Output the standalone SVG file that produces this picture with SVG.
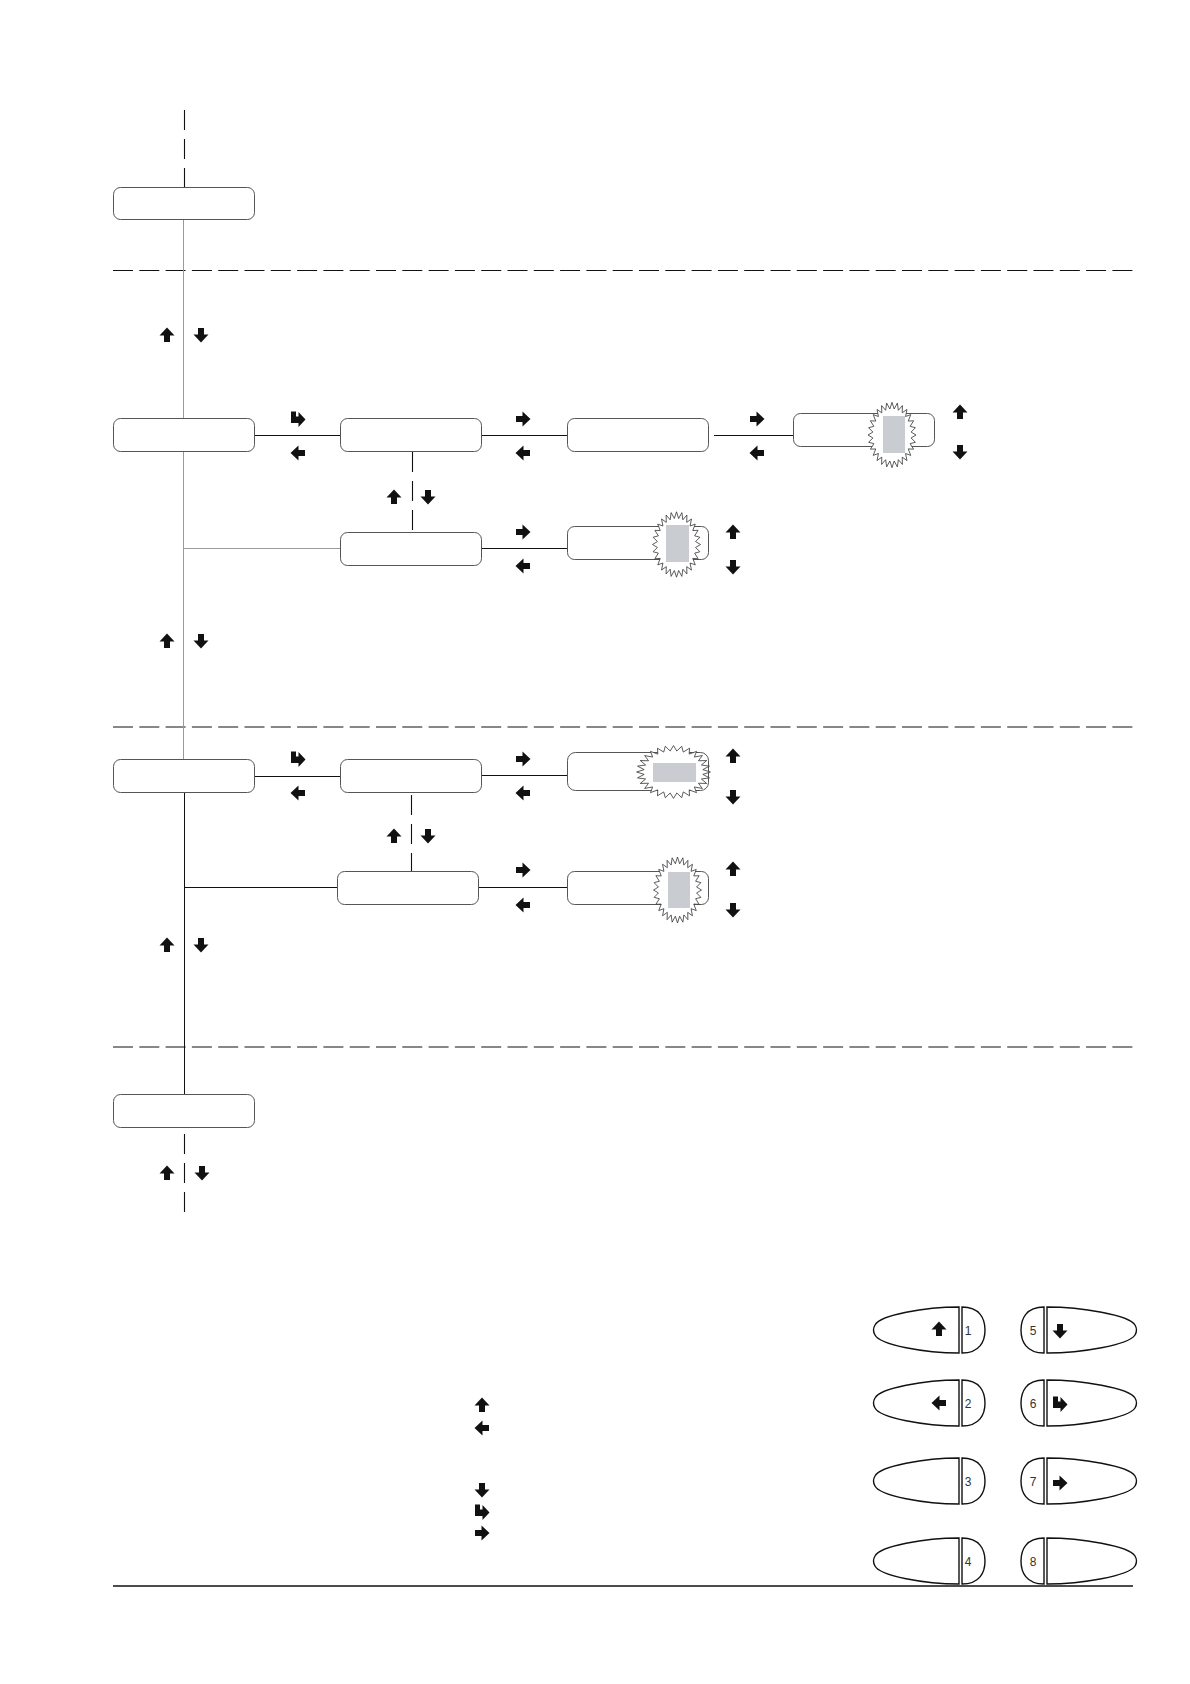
<svg xmlns="http://www.w3.org/2000/svg" xmlns:xlink="http://www.w3.org/1999/xlink" width="1190" height="1684" viewBox="0 0 1190 1684">
<style>
.box{fill:#fff;stroke:#555;stroke-width:1}
.ln{stroke:#111;stroke-width:1;fill:none}
.lg{stroke:#9a9a9a;stroke-width:1;fill:none}
.dv{stroke:#111;stroke-width:1.1;fill:none;stroke-dasharray:20 9}
.dh{stroke:#111;stroke-width:1.2;fill:none;stroke-dasharray:20 6.3}
.ar{fill:#111}
.star{fill:#fff;stroke:#333;stroke-width:0.8}
.hl{fill:#c9cdd1}
.key{fill:#fff;stroke:#111;stroke-width:1.4}
.num{font-family:"Liberation Sans",Arial,sans-serif;font-size:12px;fill:#333;text-anchor:middle;dominant-baseline:central}
</style>
<defs>
<path id="au" d="M0,-7.5 L7.5,0.5 L3,0.5 L3,7 L-3,7 L-3,0.5 L-7.5,0.5 Z"/>
<path id="ad" d="M0,7.5 L7.5,-0.5 L3,-0.5 L3,-7 L-3,-7 L-3,-0.5 L-7.5,-0.5 Z"/>
<path id="arr" d="M7.5,0 L-0.5,-7.5 L-0.5,-3 L-7,-3 L-7,3 L-0.5,3 L-0.5,7.5 Z"/>
<path id="al" d="M-7.5,0 L0.5,-7.5 L0.5,-3 L7,-3 L7,3 L0.5,3 L0.5,7.5 Z"/>
<path id="aret" d="M-7,-7.5 L-2,-7.5 L-2,-2.5 L0.5,-2.5 L0.5,-7 L7.5,0.5 L0.5,8 L0.5,4 L-7,4 Z"/>
<polygon id="starp" points="30,0 23.85,2.69 29.25,6.68 22.65,7.93 27.03,13.02 20.32,12.77 23.45,18.7 16.97,16.97 18.7,23.45 12.77,20.32 13.02,27.03 7.93,22.65 6.68,29.25 2.69,23.85 0,30 -2.69,23.85 -6.68,29.25 -7.93,22.65 -13.02,27.03 -12.77,20.32 -18.7,23.45 -16.97,16.97 -23.45,18.7 -20.32,12.77 -27.03,13.02 -22.65,7.93 -29.25,6.68 -23.85,2.69 -30,0 -23.85,-2.69 -29.25,-6.68 -22.65,-7.93 -27.03,-13.02 -20.32,-12.77 -23.45,-18.7 -16.97,-16.97 -18.7,-23.45 -12.77,-20.32 -13.02,-27.03 -7.93,-22.65 -6.68,-29.25 -2.69,-23.85 0,-30 2.69,-23.85 6.68,-29.25 7.93,-22.65 13.02,-27.03 12.77,-20.32 18.7,-23.45 16.97,-16.97 23.45,-18.7 20.32,-12.77 27.03,-13.02 22.65,-7.93 29.25,-6.68 23.85,-2.69" vector-effect="non-scaling-stroke"/>
<g id="keyL">
<path class="key" d="M959,0 C925,0 880,8 875,18 Q872,23 875,28 C880,38 925,46 959,46 Z"/>
<path class="key" d="M962,0 C980,0 985,12 985,23 C985,34 980,46 962,46 Z"/>
</g>
<g id="keyR">
<path class="key" d="M1044,0 C1026,0 1021,12 1021,23 C1021,34 1026,46 1044,46 Z"/>
<path class="key" d="M1047,0 C1081,0 1129,8 1135,18 Q1138,23 1135,28 C1129,38 1081,46 1047,46 Z"/>
</g>
</defs>

<g id="separators">
<line class="dh" x1="113" y1="270.5" x2="1133" y2="270.5"/>
<line class="dh" x1="113" y1="727" x2="1133" y2="727"/>
<line class="dh" x1="113" y1="1047" x2="1133" y2="1047"/>
<line x1="113" y1="1586" x2="1133" y2="1586" stroke="#111" stroke-width="1.5"/>
</g>

<g id="connectors">
<line class="dv" x1="184.5" y1="110" x2="184.5" y2="187"/>
<line class="lg" x1="183.5" y1="219" x2="183.5" y2="759"/>
<line class="lg" x1="183.5" y1="548.5" x2="340" y2="548.5"/>
<line class="ln" x1="184.5" y1="792" x2="184.5" y2="1094"/>
<line class="ln" x1="184.5" y1="887.5" x2="337" y2="887.5"/>
<line class="dv" x1="184.5" y1="1134" x2="184.5" y2="1212"/>
<line class="ln" x1="254" y1="435.5" x2="340" y2="435.5"/>
<line class="ln" x1="480" y1="435.5" x2="567" y2="435.5"/>
<line class="ln" x1="714" y1="435.5" x2="793" y2="435.5"/>
<line class="dv" x1="412.5" y1="452" x2="412.5" y2="532"/>
<line class="ln" x1="482" y1="548.5" x2="567" y2="548.5"/>
<line class="ln" x1="254" y1="776.5" x2="340" y2="776.5"/>
<line class="ln" x1="482" y1="775.5" x2="567" y2="775.5"/>
<line class="dv" x1="411.5" y1="795" x2="411.5" y2="874"/>
<line class="ln" x1="479" y1="887.5" x2="567" y2="887.5"/>
</g>

<g id="node-top"><rect class="box" x="113.5" y="187.5" width="141" height="32" rx="7"/></g>
<g id="node-a1"><rect class="box" x="113.5" y="418.5" width="141" height="33" rx="7"/></g>
<g id="node-b1"><rect class="box" x="340.5" y="418.5" width="141" height="33" rx="7"/></g>
<g id="node-c1"><rect class="box" x="567.5" y="418.5" width="141" height="33" rx="7"/></g>
<g id="node-d1"><rect class="box" x="793.5" y="413.5" width="141" height="33" rx="7"/>
<use href="#starp" class="star" transform="translate(892,435) scale(0.8,1.09)"/>
<rect class="hl" x="883" y="416" width="22" height="37"/></g>
<g id="node-b2"><rect class="box" x="340.5" y="532.5" width="141" height="33" rx="7"/></g>
<g id="node-c2"><rect class="box" x="567.5" y="526.5" width="141" height="33" rx="7"/>
<use href="#starp" class="star" transform="translate(676.5,544.5) scale(0.8,1.09)"/>
<rect class="hl" x="666" y="525" width="23" height="37"/></g>
<g id="node-a3"><rect class="box" x="113.5" y="759.5" width="141" height="33" rx="7"/></g>
<g id="node-b3"><rect class="box" x="340.5" y="759.5" width="141" height="33" rx="7"/></g>
<g id="node-c3"><rect class="box" x="567.5" y="752.5" width="141" height="38" rx="8"/>
<use href="#starp" class="star" transform="translate(673.5,772) scale(1.23,0.88)"/>
<rect class="hl" x="653" y="763" width="43" height="19"/></g>
<g id="node-b4"><rect class="box" x="337.5" y="871.5" width="141" height="33" rx="7"/></g>
<g id="node-c4"><rect class="box" x="567.5" y="871.5" width="141" height="33" rx="7"/>
<use href="#starp" class="star" transform="translate(677.5,890) scale(0.8,1.1)"/>
<rect class="hl" x="668" y="872" width="22" height="36"/></g>
<g id="node-a5"><rect class="box" x="113.5" y="1094.5" width="141" height="33" rx="7"/></g>

<g id="arrows" class="ar">
<use href="#au" x="167" y="335"/><use href="#ad" x="201" y="335"/>
<use href="#aret" x="298" y="419"/><use href="#al" x="298" y="453"/>
<use href="#au" x="394" y="497"/><use href="#ad" x="428" y="497"/>
<use href="#arr" x="523" y="419"/><use href="#al" x="523" y="453"/>
<use href="#arr" x="757" y="419"/><use href="#al" x="757" y="453"/>
<use href="#au" x="960" y="412"/><use href="#ad" x="960" y="452"/>
<use href="#arr" x="523" y="532"/><use href="#al" x="523" y="566"/>
<use href="#au" x="733" y="532"/><use href="#ad" x="733" y="567"/>
<use href="#au" x="167" y="641"/><use href="#ad" x="201" y="641"/>
<use href="#aret" x="298" y="759"/><use href="#al" x="298" y="793"/>
<use href="#au" x="394" y="836"/><use href="#ad" x="428" y="836"/>
<use href="#arr" x="523" y="759"/><use href="#al" x="523" y="793"/>
<use href="#au" x="733" y="756"/><use href="#ad" x="733" y="797"/>
<use href="#arr" x="523" y="870"/><use href="#al" x="523" y="905"/>
<use href="#au" x="733" y="869"/><use href="#ad" x="733" y="910"/>
<use href="#au" x="167" y="945"/><use href="#ad" x="201" y="945"/>
<use href="#au" x="167" y="1173"/><use href="#ad" x="202" y="1173"/>
</g>

<g id="legend-arrows" class="ar">
<use href="#au" x="482" y="1405"/>
<use href="#al" x="482" y="1428"/>
<use href="#ad" x="482" y="1490"/>
<use href="#aret" x="482" y="1512"/>
<use href="#arr" x="482" y="1533"/>
</g>

<g id="key1"><use href="#keyL" y="1307"/><use href="#au" class="ar" x="939" y="1329"/><text class="num" x="968" y="1331">1</text></g>
<g id="key2"><use href="#keyL" y="1380"/><use href="#al" class="ar" x="939" y="1403"/><text class="num" x="968" y="1404">2</text></g>
<g id="key3"><use href="#keyL" y="1458"/><text class="num" x="968" y="1482">3</text></g>
<g id="key4"><use href="#keyL" y="1538"/><text class="num" x="968" y="1562">4</text></g>
<g id="key5"><use href="#keyR" y="1307"/><use href="#ad" class="ar" x="1060" y="1331"/><text class="num" x="1033" y="1331">5</text></g>
<g id="key6"><use href="#keyR" y="1380"/><use href="#aret" class="ar" x="1060" y="1404"/><text class="num" x="1033" y="1404">6</text></g>
<g id="key7"><use href="#keyR" y="1458"/><use href="#arr" class="ar" x="1060" y="1483"/><text class="num" x="1033" y="1482">7</text></g>
<g id="key8"><use href="#keyR" y="1538"/><text class="num" x="1033" y="1562">8</text></g>
</svg>
